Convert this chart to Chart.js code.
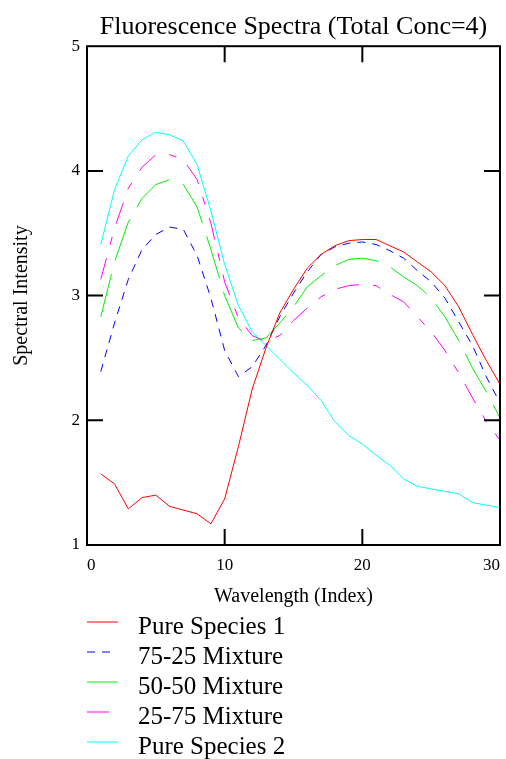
<!DOCTYPE html>
<html lang="en">
<head>
  <meta charset="UTF-8">
  <title>Fluorescence Spectra</title>
  <style>
    html, body { margin: 0; padding: 0; background: #fff; }
    #wrap { width: 506px; height: 759px; position: relative; }
  </style>
</head>
<body>
<div id="wrap"><canvas id="spectraChart"></canvas></div>

<script src="https://cdn.jsdelivr.net/npm/chart.js"></script>
<script>
  // data
  const wavelength = [1, 2, 3, 4, 5, 6, 7, 8, 9, 10, 11, 12, 13, 14, 15, 16, 17, 18, 19, 20, 21, 22, 23, 24, 25, 26, 27, 28, 29, 30];
  const pureSpecies1 = [1.57, 1.49, 1.29, 1.38, 1.40, 1.31, 1.28, 1.25, 1.17, 1.37, 1.79, 2.25, 2.58, 2.86, 3.05, 3.22, 3.33, 3.40, 3.44, 3.45, 3.45, 3.40, 3.35, 3.27, 3.19, 3.08, 2.91, 2.69, 2.48, 2.29];
  const mix7525 = [2.39, 2.78, 3.13, 3.37, 3.49, 3.55, 3.53, 3.32, 2.98, 2.56, 2.35, 2.43, 2.60, 2.83, 3.02, 3.19, 3.33, 3.39, 3.42, 3.43, 3.41, 3.36, 3.30, 3.20, 3.11, 2.98, 2.79, 2.60, 2.35, 2.14];
  const mix5050 = [2.83, 3.27, 3.59, 3.78, 3.89, 3.93, 3.89, 3.71, 3.37, 3.00, 2.74, 2.64, 2.66, 2.78, 2.91, 3.07, 3.16, 3.24, 3.29, 3.30, 3.28, 3.23, 3.15, 3.08, 2.98, 2.83, 2.64, 2.42, 2.23, 2.02];
  const mix2575 = [3.13, 3.54, 3.86, 4.03, 4.13, 4.13, 4.09, 3.93, 3.58, 3.11, 2.82, 2.68, 2.63, 2.68, 2.80, 2.90, 2.99, 3.05, 3.08, 3.09, 3.08, 3.01, 2.95, 2.83, 2.71, 2.56, 2.38, 2.18, 1.99, 1.84];
  const pureSpecies2 = [3.41, 3.85, 4.12, 4.25, 4.31, 4.29, 4.24, 4.05, 3.68, 3.25, 2.92, 2.71, 2.60, 2.49, 2.38, 2.28, 2.16, 1.99, 1.88, 1.81, 1.72, 1.64, 1.53, 1.47, 1.45, 1.43, 1.41, 1.34, 1.32, 1.30];
  const xTicks = [0, 10, 20, 30];
  const yTicks = [1, 2, 3, 4, 5];

  const serif = '"Liberation Serif", "Times New Roman", serif';

  function points(values) {
    return values.map((v, i) => ({ x: wavelength[i], y: v }));
  }

  // box around the plot with ticks pointing inwards on all four sides
  const frameTicks = {
    id: 'frameTicks',
    afterDatasetsDraw(chart) {
      const { ctx, chartArea: a, scales: { x, y } } = chart;
      const len = 16;
      ctx.save();
      ctx.strokeStyle = '#000';
      ctx.lineWidth = 2;
      ctx.strokeRect(a.left, a.top, a.right - a.left, a.bottom - a.top);
      ctx.beginPath();
      xTicks.slice(1, -1).forEach(t => {
        const px = x.getPixelForValue(t);
        ctx.moveTo(px, a.bottom); ctx.lineTo(px, a.bottom - len);
        ctx.moveTo(px, a.top); ctx.lineTo(px, a.top + len);
      });
      yTicks.slice(1, -1).forEach(t => {
        const py = y.getPixelForValue(t);
        ctx.moveTo(a.left, py); ctx.lineTo(a.left + len, py);
        ctx.moveTo(a.right, py); ctx.lineTo(a.right - len, py);
      });
      ctx.stroke();
      ctx.restore();
    }
  };

  // legend stacked under the plot, one entry per row
  const stackedLegend = {
    id: 'stackedLegend',
    afterDraw(chart) {
      const { ctx } = chart;
      const x0 = 87, top = 622, step = 30;
      ctx.save();
      chart.data.datasets.forEach((ds, i) => {
        const yy = top + i * step;
        ctx.beginPath();
        ctx.strokeStyle = ds.borderColor;
        ctx.lineWidth = 1;
        ctx.setLineDash(ds.borderDash || []);
        ctx.moveTo(x0, yy);
        ctx.lineTo(x0 + (ds.sampleLen || 31), yy);
        ctx.stroke();
        ctx.setLineDash([]);
        ctx.fillStyle = '#000';
        ctx.font = '25px ' + serif;
        ctx.textBaseline = 'middle';
        ctx.fillText(ds.label, 138, yy + 5);
      });
      ctx.restore();
    }
  };

  const ctx = document.getElementById('spectraChart').getContext('2d');
  new Chart(ctx, {
    type: 'line',
    data: {
      datasets: [
        { label: 'Pure Species 1', data: points(pureSpecies1), borderColor: '#ff0000', borderWidth: 1 },
        { label: '75-25 Mixture', data: points(mix7525), borderColor: '#0000ff', borderWidth: 1, borderDash: [8, 7], sampleLen: 24 },
        { label: '50-50 Mixture', data: points(mix5050), borderColor: '#00ee00', borderWidth: 1, borderDash: [44, 14] },
        { label: '25-75 Mixture', data: points(mix2575), borderColor: '#ff00ff', borderWidth: 1, borderDash: [22, 14, 8, 14], sampleLen: 23 },
        { label: 'Pure Species 2', data: points(pureSpecies2), borderColor: '#00ffff', borderWidth: 1 }
      ]
    },
    options: {
      responsive: true,
      maintainAspectRatio: false,
      animation: false,
      events: [],
      elements: { point: { radius: 0 }, line: { tension: 0 } },
      layout: { padding: { left: 0, right: 6, top: 0, bottom: 144 } },
      plugins: {
        legend: { display: false },
        tooltip: { enabled: false },
        title: {
          display: true,
          fullSize: false,
          text: 'Fluorescence Spectra (Total Conc=4)',
          color: '#000',
          font: { family: serif, size: 26, weight: 'normal' },
          padding: { top: 12, bottom: 3 }
        }
      },
      scales: {
        x: {
          type: 'linear',
          min: 0,
          max: 30,
          afterBuildTicks: s => { s.ticks = xTicks.map(v => ({ value: v })); },
          afterFit: s => { s.height = 70; s.paddingLeft = 0; s.paddingRight = 0; },
          grid: { display: false, drawTicks: false },
          border: { display: false },
          ticks: { color: '#000', font: { family: serif, size: 17 }, padding: 10, align: 'inner', maxRotation: 0 },
          title: {
            display: true,
            text: 'Wavelength (Index)',
            color: '#000',
            font: { family: serif, size: 20 },
            padding: { top: 0, bottom: 6 }
          }
        },
        y: {
          min: 1,
          max: 5,
          afterBuildTicks: s => { s.ticks = yTicks.map(v => ({ value: v })); },
          afterFit: s => { s.width = 87; },
          grid: { display: false, drawTicks: false },
          border: { display: false },
          ticks: { color: '#000', font: { family: serif, size: 17 }, padding: 7 },
          title: {
            display: true,
            text: 'Spectral Intensity',
            color: '#000',
            font: { family: serif, size: 20 },
            padding: { top: 10, bottom: 0 }
          }
        }
      }
    },
    plugins: [frameTicks, stackedLegend]
  });
</script>
</body>
</html>
